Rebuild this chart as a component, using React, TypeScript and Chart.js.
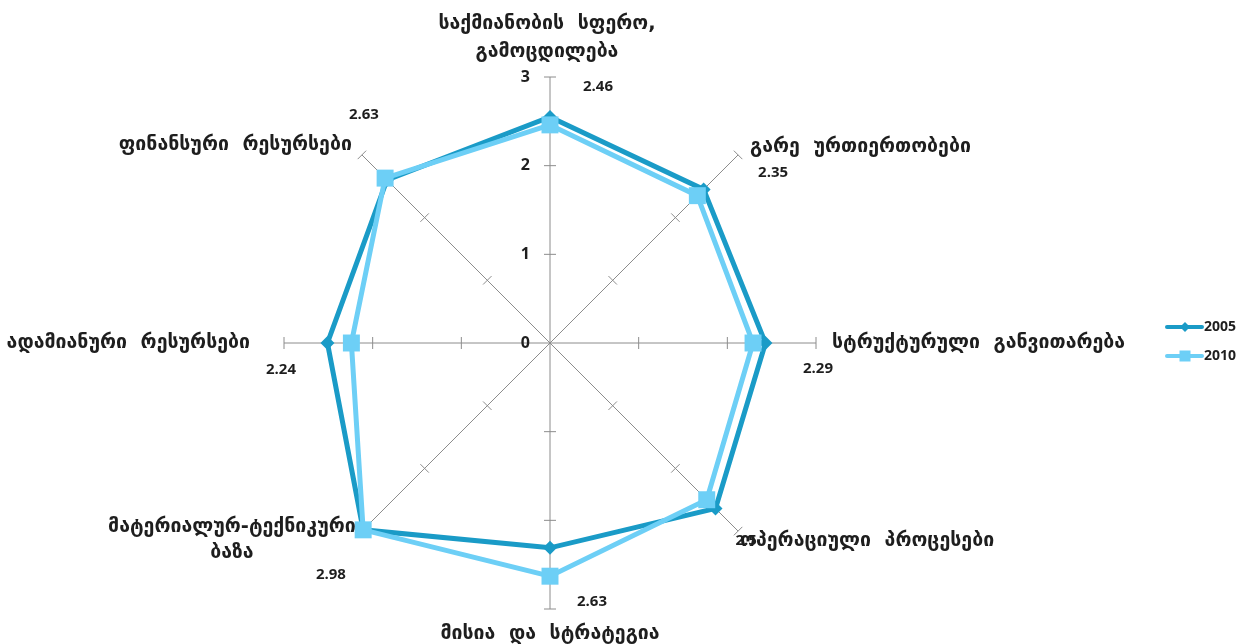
import React, { useEffect, useRef } from "react";
import { Chart, registerables } from "chart.js";

Chart.register(...registerables);

const categories: string[][] = [
  ["საქმიანობის  სფერო,", "გამოცდილება"],
  ["გარე  ურთიერთობები"],
  ["სტრუქტურული  განვითარება"],
  ["ოპერაციული  პროცესები"],
  ["მისია  და  სტრატეგია"],
  ["მატერიალურ-ტექნიკური", "ბაზა"],
  ["ადამიანური  რესურსები"],
  ["ფინანსური  რესურსები"],
];
const seriesNames = ["2005", "2010"];
const values2005 = [2.55, 2.45, 2.43, 2.64, 2.31, 2.98, 2.51, 2.6];
const values2010 = [2.46, 2.35, 2.29, 2.5, 2.63, 2.98, 2.24, 2.63];
const tickValues = [0, 1, 2, 3];

const COLOR_2005 = "#1a9bc7";
const COLOR_2010 = "#6dcff6";
const AXIS_COLOR = "#8c8c8c";
const TEXT_COLOR = "#1e1e1e";
const GEO_FONT = 'bold 19.5px "DejaVu Sans"';
const NUM_FONT = '700 15px "Open Sans"';

// label placement relative to the end of each spoke
const catOffsets = [
  { dx: -3, dy: -53, align: "center", lh: 28 },
  { dx: 12, dy: -8, align: "left", lh: 26 },
  { dx: 16, dy: 0, align: "left", lh: 26 },
  { dx: 2, dy: 10, align: "left", lh: 26 },
  { dx: 0, dy: 25, align: "center", lh: 26 },
  { dx: -130, dy: -4, align: "center", lh: 26 },
  { dx: -34, dy: 0, align: "right", lh: 26 },
  { dx: -10, dy: -10, align: "right", lh: 26 },
];
const valOffsets = [
  { dx: 48, dy: 10 },
  { dx: 35, dy: 18 },
  { dx: 2, dy: 26 },
  { dx: 8, dy: 10 },
  { dx: 42, dy: -7 },
  { dx: -31, dy: 44 },
  { dx: -3, dy: 27 },
  { dx: 2, dy: -40 },
];

const decorPlugin = {
  id: "decor",
  beforeDatasetsDraw(chart: any) {
    const scale = chart.scales.r;
    const ctx = chart.ctx;
    ctx.save();
    ctx.strokeStyle = AXIS_COLOR;
    ctx.lineWidth = 1;
    const n = categories.length;
    for (let i = 0; i < n; i++) {
      const ang = scale.getIndexAngle(i) - Math.PI / 2;
      const px = -Math.sin(ang);
      const py = Math.cos(ang);
      for (const v of tickValues) {
        if (v === 0) continue;
        const d = scale.getDistanceFromCenterForValue(v);
        const p = scale.getPointPosition(i, d);
        ctx.beginPath();
        ctx.moveTo(p.x - px * 6, p.y - py * 6);
        ctx.lineTo(p.x + px * 6, p.y + py * 6);
        ctx.stroke();
      }
    }
    ctx.restore();
  },
  afterDraw(chart: any) {
    const scale = chart.scales.r;
    const ctx = chart.ctx;
    ctx.save();
    ctx.fillStyle = TEXT_COLOR;
    ctx.textBaseline = "middle";
    const n = categories.length;
    const R = scale.drawingArea;
    // category labels
    ctx.font = GEO_FONT;
    for (let i = 0; i < n; i++) {
      const p = scale.getPointPosition(i, R);
      const o = catOffsets[i];
      ctx.textAlign = o.align;
      categories[i].forEach((line, k) => {
        ctx.fillText(line, p.x + o.dx, p.y + o.dy + k * o.lh);
      });
    }
    // tick labels
    ctx.font = '700 16px "Open Sans"';
    ctx.textAlign = "right";
    for (const v of tickValues) {
      const d = scale.getDistanceFromCenterForValue(v);
      const p = scale.getPointPosition(0, d);
      ctx.fillText(String(v), p.x - 20, p.y);
    }
    // value labels (2010)
    ctx.font = NUM_FONT;
    ctx.textAlign = "center";
    for (let i = 0; i < n; i++) {
      const p = scale.getPointPosition(i, R);
      const o = valOffsets[i];
      ctx.fillText(String(values2010[i]), p.x + o.dx, p.y + o.dy);
    }
    // legend
    const items = [
      { name: seriesNames[0], color: COLOR_2005, style: "diamond", y: 327 },
      { name: seriesNames[1], color: COLOR_2010, style: "square", y: 356 },
    ];
    for (const it of items) {
      ctx.strokeStyle = it.color;
      ctx.fillStyle = it.color;
      ctx.lineWidth = 4;
      ctx.lineCap = "round";
      ctx.beginPath();
      ctx.moveTo(1167, it.y);
      ctx.lineTo(1202, it.y);
      ctx.stroke();
      ctx.beginPath();
      if (it.style === "diamond") {
        ctx.moveTo(1185, it.y - 5);
        ctx.lineTo(1190, it.y);
        ctx.lineTo(1185, it.y + 5);
        ctx.lineTo(1180, it.y);
        ctx.closePath();
      } else {
        ctx.rect(1179.5, it.y - 5.5, 11, 11);
      }
      ctx.fill();
      ctx.fillStyle = TEXT_COLOR;
      ctx.font = '700 14px "Open Sans"';
      ctx.textAlign = "left";
      ctx.fillText(it.name, 1204, it.y);
    }
    ctx.restore();
  },
};

export default function App() {
  const ref = useRef<HTMLCanvasElement | null>(null);
  useEffect(() => {
    if (!ref.current) return;
    const chart = new Chart(ref.current, {
      type: "radar",
      data: {
        labels: categories.map((c) => c.join(" ")),
        datasets: [
          {
            label: seriesNames[0],
            data: values2005,
            borderColor: COLOR_2005,
            backgroundColor: COLOR_2005,
            borderWidth: 5,
            fill: false,
            pointStyle: "rectRot",
            pointRadius: 7,
            pointBorderWidth: 0,
            pointBackgroundColor: COLOR_2005,
            order: 1,
          },
          {
            label: seriesNames[1],
            data: values2010,
            borderColor: COLOR_2010,
            backgroundColor: COLOR_2010,
            borderWidth: 5,
            fill: false,
            pointStyle: "rect",
            pointRadius: 12,
            pointBorderWidth: 0,
            pointBackgroundColor: COLOR_2010,
            order: 0,
          },
        ],
      },
      options: {
        responsive: false,
        animation: false,
        layout: { padding: { left: 284, right: 432, top: 77, bottom: 35 } },
        plugins: { legend: { display: false }, tooltip: { enabled: false } },
        elements: { line: { tension: 0 } },
        scales: {
          r: {
            min: 0,
            max: 3,
            ticks: { display: false, stepSize: 1 },
            grid: { display: false },
            angleLines: { display: true, color: AXIS_COLOR, lineWidth: 1 },
            pointLabels: { display: false },
          },
        },
      },
      plugins: [decorPlugin],
    });
    return () => chart.destroy();
  }, []);
  return (
    <div style={{ position: "absolute", left: 0, top: 0, width: 1248, height: 644, background: "#fff" }}>
      <canvas ref={ref} width={1248} height={644} />
    </div>
  );
}
